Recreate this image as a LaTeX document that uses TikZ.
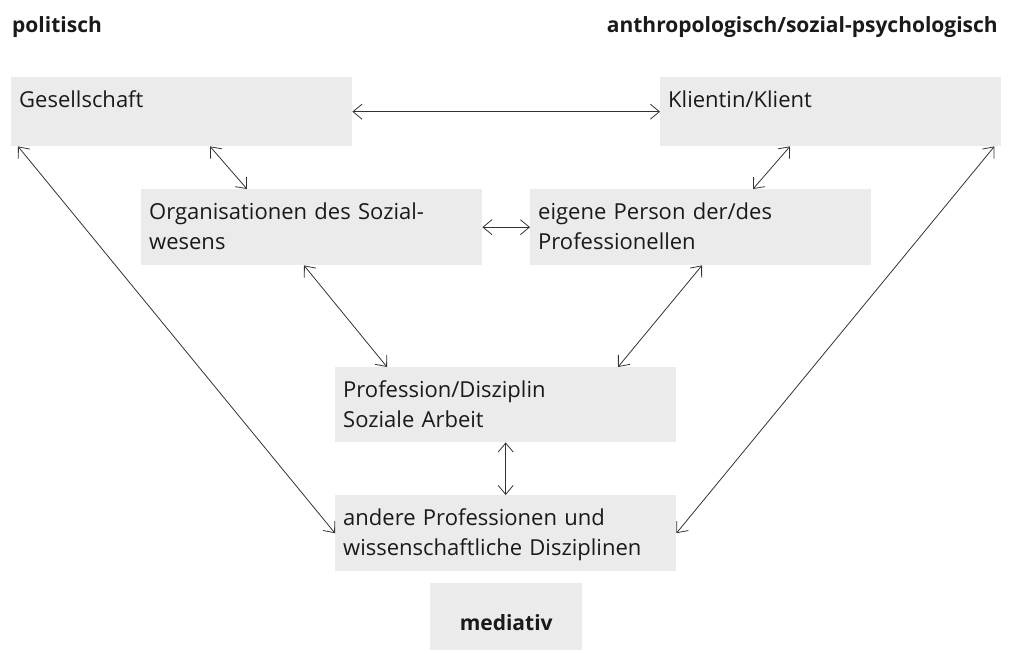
\documentclass[tikz,border=0pt]{standalone}
\usepackage{fontspec}
\setmainfont{Open Sans}
\usetikzlibrary{arrows.meta}
\definecolor{boxgray}{HTML}{EBEBEB}
\definecolor{inkgray}{HTML}{1A1A1A}
\begin{document}
\begin{tikzpicture}[x=1pt, y=-1pt,
  box/.style={fill=boxgray, anchor=north west, inner xsep=8pt, inner ysep=0pt, align=left, text width=325pt, text height=30pt, text=inkgray, font=\fontsize{22}{30}\selectfont},
  title/.style={inner sep=0pt, text=inkgray, font=\fontsize{21}{26}\selectfont\bfseries},
  link/.style={{Straight Barb[length=9pt,width=15pt]}-{Straight Barb[length=9pt,width=15pt]}, line width=0.8pt, draw=black!80}]
\useasboundingbox (0,0) rectangle (1011,652);
\node[title, anchor=base west] (pol) at (12,33){politisch};
\node[title, anchor=base east] (anth) at (998,33){anthropologisch/sozial-psychologisch};
\node[box, text depth=39pt] (ges) at (11,77){Gesellschaft};
\node[box, text depth=39pt] (kli) at (660,77){Klientin/Klient};
\node[box, text depth=46pt] (org) at (141,189){Organisationen des Sozial-\\wesens};
\node[box, text depth=46pt] (eig) at (530,189){eigene Person der/des\\Professionellen};
\node[box, text depth=45pt] (prof) at (335,367){Profession/Disziplin\\Soziale Arbeit};
\node[box, text depth=46pt] (andere) at (335,495){andere Professionen und\\wissenschaftliche Disziplinen};
\node[title, fill=boxgray, anchor=north west, minimum width=152pt, text height=47pt, text depth=20pt] (med) at (430,583){mediativ};
\draw[link] (ges.east) -- (kli.west);
\draw[link] (org.east) -- (eig.west);
\draw[link] ([xshift=199pt]ges.south west) -- ([xshift=106pt]org.north west);
\draw[link] ([xshift=130pt]kli.south west) -- ([xshift=223pt]eig.north west);
\draw[link] ([xshift=163pt]org.south west) -- ([xshift=52pt]prof.north west);
\draw[link] ([xshift=172pt]eig.south west) -- ([xshift=283pt]prof.north west);
\draw[link] (prof.south) -- (andere.north);
\draw[link] ([xshift=7pt]ges.south west) -- (andere.west);
\draw[link] ([xshift=-7pt]kli.south east) -- (andere.east);
\end{tikzpicture}
\end{document}
